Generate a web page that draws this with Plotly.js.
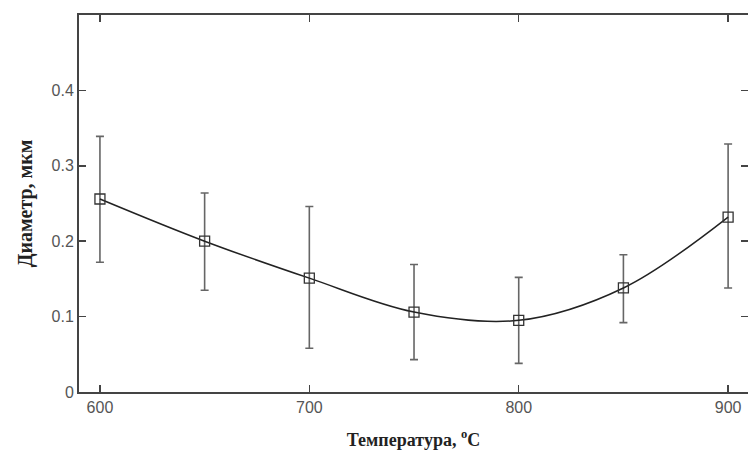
<!DOCTYPE html>
<html>
<head>
<meta charset="utf-8">
<script src="https://cdn.plot.ly/plotly-3.0.1.min.js"></script>
<style>html,body{margin:0;padding:0;background:#fff;}#chart{width:748px;height:454px;}</style>
</head>
<body>
<div id="chart"></div>
<script>
// Data
const temperature = [600, 650, 700, 750, 800, 850, 900];
const diameter    = [0.256, 0.200, 0.151, 0.106, 0.095, 0.138, 0.232];
const errUpper    = [0.339, 0.264, 0.246, 0.169, 0.152, 0.182, 0.329];
const errLower    = [0.172, 0.135, 0.058, 0.043, 0.038, 0.092, 0.138];
const xTicks = [600, 700, 800, 900];
const yTicks = [0, 0.1, 0.2, 0.3, 0.4];
const yTickText = ['0', '0.1', '0.2', '0.3', '0.4'];

const plus  = diameter.map((v, i) => errUpper[i] - v);
const minus = diameter.map((v, i) => v - errLower[i]);

const trace = {
  x: temperature,
  y: diameter,
  type: 'scatter',
  mode: 'lines+markers',
  line: {color: '#222', width: 1.5, shape: 'spline', smoothing: 1},
  marker: {symbol: 'square-open', size: 10, color: '#333', line: {width: 1.3, color: '#333'}},
  error_y: {type: 'data', symmetric: false, array: plus, arrayminus: minus,
            color: '#666', thickness: 1.6, width: 4},
  hoverinfo: 'none'
};

const axisCommon = {
  showgrid: false, zeroline: false, showline: true, linecolor: '#444', linewidth: 2,
  mirror: 'ticks', ticks: 'inside', ticklen: 7, tickwidth: 1.5, tickcolor: '#444',
  tickfont: {family: 'Liberation Sans, Arial, sans-serif', size: 16, color: '#555'}
};

const layout = {
  width: 748, height: 454,
  margin: {l: 79, r: 0, t: 15, b: 62},
  paper_bgcolor: '#fff', plot_bgcolor: '#fff',
  showlegend: false,
  xaxis: Object.assign({}, axisCommon, {
    range: [590, 909.5], tickvals: xTicks, ticktext: xTicks.map(String),
    title: {text: 'Температура, <sup>o</sup>C', standoff: 18,
            font: {family: 'Liberation Serif, Times New Roman, serif', size: 18, color: '#222', weight: 'bold'}}
  }),
  yaxis: Object.assign({}, axisCommon, {
    range: [0, 0.5], tickvals: yTicks, ticktext: yTickText,
    title: {text: 'Диаметр, мкм', standoff: 14,
            font: {family: 'Liberation Serif, Times New Roman, serif', size: 20, color: '#222', weight: 'bold'}}
  })
};

Plotly.newPlot('chart', [trace], layout, {displayModeBar: false, staticPlot: true});
</script>
</body>
</html>
